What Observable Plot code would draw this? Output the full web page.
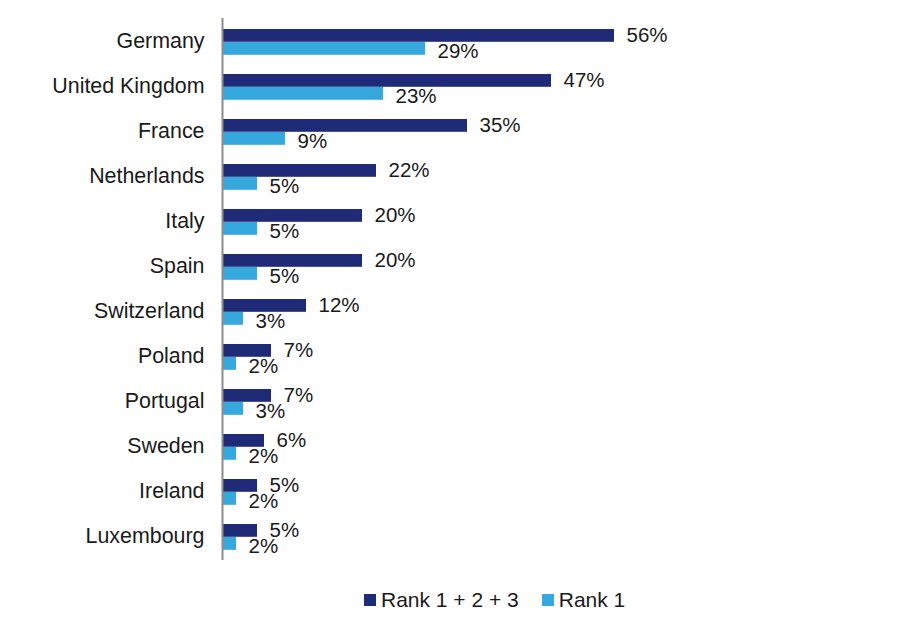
<!DOCTYPE html>
<html>
<head>
<meta charset="utf-8">
<script src="https://cdn.jsdelivr.net/npm/d3@7"></script>
<script src="https://cdn.jsdelivr.net/npm/@observablehq/plot@0.6"></script>
<style>
  body { margin: 0; background: #fff; font-family: "Liberation Sans", Arial, sans-serif; }
  #legend { display: flex; align-items: center; height: 30px; margin-top: 10px; margin-left: 364px; font-size: 21px; color: #1a1a1a; }
  .sw { width: 12px; height: 12px; display: inline-block; margin-right: 5px; }
  .item { display: flex; align-items: center; margin-right: 23px; }
</style>
</head>
<body>
<div id="chart"></div>
<div id="legend"></div>
<script>
const countries = ["Germany", "United Kingdom", "France", "Netherlands", "Italy", "Spain", "Switzerland", "Poland", "Portugal", "Sweden", "Ireland", "Luxembourg"];
const rank123 = [56, 47, 35, 22, 20, 20, 12, 7, 7, 6, 5, 5];
const rank1 = [29, 23, 9, 5, 5, 5, 3, 2, 3, 2, 2, 2];
const seriesNames = ["Rank 1 + 2 + 3", "Rank 1"];
const seriesColors = ["#202b78", "#35a8dd"];

const dark = countries.map((c, i) => ({country: c, value: rank123[i]}));
const light = countries.map((c, i) => ({country: c, value: rank1[i]}));

const chart = Plot.plot({
  width: 920,
  height: 575,
  marginLeft: 222,
  marginRight: 68,
  marginTop: 18,
  marginBottom: 15,
  style: {fontFamily: "'Liberation Sans', Arial, sans-serif", fontSize: "20.5px", color: "#1a1a1a", background: "#fff"},
  x: {domain: [0, 90], axis: null},
  y: {domain: countries, padding: 0, axis: null},
  marks: [
    Plot.axisY({tickSize: 0, tickPadding: 18, fontSize: 21.4, label: null, dy: -1}),
    Plot.barX(dark, {x: "value", y: "country", fill: seriesColors[0], insetTop: 10, insetBottom: 22.2}),
    Plot.barX(light, {x: "value", y: "country", fill: seriesColors[1], insetTop: 23, insetBottom: 9.2}),
    Plot.ruleX([0], {stroke: "#8c8c8c", strokeWidth: 2}),
    Plot.text(dark, {x: "value", y: "country", text: d => d.value + "%", textAnchor: "start", dx: 12, dy: -6.5, fill: "#1a1a1a"}),
    Plot.text(light, {x: "value", y: "country", text: d => d.value + "%", textAnchor: "start", dx: 12, dy: 9, fill: "#1a1a1a"})
  ]
});
document.getElementById("chart").appendChild(chart);

const legend = document.getElementById("legend");
seriesNames.forEach((n, i) => {
  const it = document.createElement("span");
  it.className = "item";
  it.innerHTML = `<span class="sw" style="background:${seriesColors[i]}"></span><span>${n}</span>`;
  legend.appendChild(it);
});
</script>
</body>
</html>
